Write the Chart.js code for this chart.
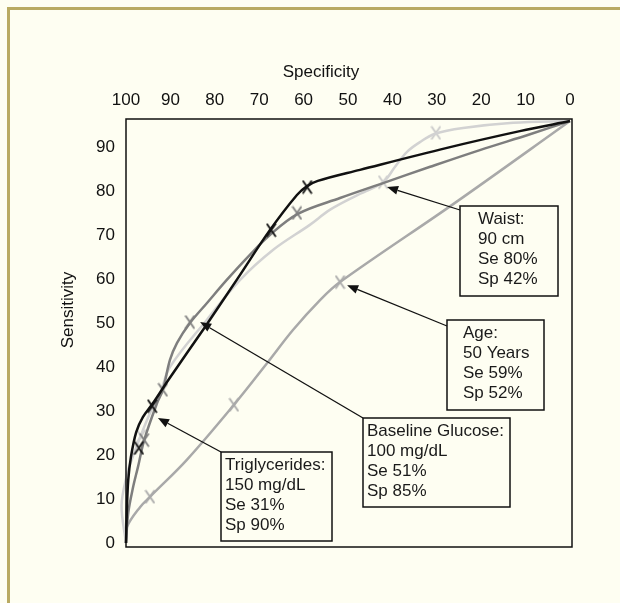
<!DOCTYPE html>
<html>
<head>
<meta charset="utf-8">
<script src="https://cdn.jsdelivr.net/npm/chart.js@4.4.0/dist/chart.umd.min.js"></script>
<style>
    html, body { margin: 0; padding: 0; background: #fefef2; }
    #wrap { width: 620px; height: 603px; }
</style>
</head>
<body>
<div id="wrap"><canvas id="rocChart" width="620" height="603"></canvas></div>
<script>
// ROC curves: specificity (%) along x, sensitivity (%) along y
const trigSpec = [100, 99.8, 99.5, 98.9, 97.7, 96.2, 93.9, 90.5, 82.2, 74.8, 67.6, 61.5, 59.2, 56.8, 47.3, 27.7, 11.3, 0];
const trigSens = [0, 7.5, 14.3, 19.5, 25.2, 28.6, 31.8, 37.0, 49.1, 60.2, 71.1, 79.1, 81.1, 82.3, 84.8, 89.8, 93.6, 95.9];

const glucoseSpec = [100, 99.5, 98.4, 97.3, 95.9, 93.0, 91.7, 90.1, 88.5, 85.6, 81.8, 77.3, 72.1, 67.6, 61.3, 51.8, 42.1, 31.5, 20.3, 9.0, 0];
const glucoseSens = [0, 6.8, 12.7, 17.3, 23.4, 31.8, 34.8, 41.6, 45.5, 50.0, 54.5, 59.8, 65.5, 70.0, 74.8, 78.4, 81.8, 85.5, 89.3, 92.9, 95.9];

const waistSpec = [100, 101.0, 99.8, 98.9, 96.8, 94.6, 92.3, 90.1, 81.8, 74.3, 66.9, 58.6, 54.1, 48.2, 42.1, 39.4, 36.7, 33.8, 30.4, 24.1, 12.8, 0];
const waistSens = [0, 8.5, 15.5, 18.4, 24.1, 29.5, 34.1, 40.0, 50.7, 59.8, 66.6, 72.3, 75.7, 78.9, 82.0, 85.5, 88.9, 91.1, 93.0, 94.3, 95.5, 95.9];

const ageSpec = [100, 99.8, 96.8, 94.6, 86.3, 75.7, 68.2, 62.4, 56.3, 51.8, 25.9, 0];
const ageSens = [0, 3.6, 8.2, 10.5, 18.9, 31.4, 40.9, 48.4, 55.2, 59.3, 77.3, 95.9];

// X marks on the curves
const trigMarkSpec = [97.1, 94.1, 67.3, 59.2];
const trigMarkSens = [21.6, 31.1, 71.1, 80.9];
const glucoseMarkSpec = [95.9, 91.7, 85.6, 61.5];
const glucoseMarkSens = [23.4, 34.8, 50.2, 75.0];
const waistMarkSpec = [96.6, 42.1, 30.2];
const waistMarkSens = [24.3, 82.0, 93.2];
const ageMarkSpec = [94.6, 75.7, 51.8];
const ageMarkSens = [10.5, 31.4, 59.3];

const specTicks = [100, 90, 80, 70, 60, 50, 40, 30, 20, 10, 0];
const sensTicks = [0, 10, 20, 30, 40, 50, 60, 70, 80, 90];

// callouts: text, box (px) and where the arrow points (spec, sens)
const callouts = [
    { lines: ['Waist:', '90 cm', 'Se 80%', 'Sp 42%'], box: [460, 206, 98, 90], textX: 478, from: [460, 210], tip: [41.2, 80.9] },
    { lines: ['Age:', '50 Years', 'Se 59%', 'Sp 52%'], box: [447, 320, 97, 90], textX: 463, from: [447, 326], tip: [50.2, 58.6] },
    { lines: ['Baseline Glucose:', '100 mg/dL', 'Se 51%', 'Sp 85%'], box: [363, 418, 147, 89], textX: 367, from: [363, 418], tip: [83.3, 50.2] },
    { lines: ['Triglycerides:', '150 mg/dL', 'Se 31%', 'Sp 90%'], box: [221, 452, 111, 89], textX: 225, from: [221, 452], tip: [92.8, 28.4] }
];

const CREAM = '#fefef2';
const FONT = '"Liberation Sans", Arial, sans-serif';

function toPoints(xs, ys) {
    return xs.map((x, i) => ({ x: x, y: ys[i] }));
}

// tall "X" glyph used as point marker
function xMark(color) {
    const c = document.createElement('canvas');
    c.width = 11; c.height = 15;
    const g = c.getContext('2d');
    g.strokeStyle = color;
    g.lineWidth = 1.8;
    g.beginPath();
    g.moveTo(1, 1); g.lineTo(10, 14);
    g.moveTo(10, 1); g.lineTo(1, 14);
    g.stroke();
    return c;
}

function curve(label, xs, ys, color) {
    return {
        label: label,
        data: toPoints(xs, ys),
        showLine: true,
        borderColor: color,
        borderWidth: 2.5,
        tension: 0.35,
        pointRadius: 0,
        clip: false
    };
}

function marks(label, xs, ys, color) {
    return {
        label: label,
        data: toPoints(xs, ys),
        showLine: false,
        pointStyle: xMark(color),
        pointRadius: 6,
        clip: false
    };
}

function drawArrow(ctx, x0, y0, x1, y1) {
    const ang = Math.atan2(y1 - y0, x1 - x0);
    const len = 11, half = 4.5;
    const bx = x1 - len * Math.cos(ang), by = y1 - len * Math.sin(ang);
    ctx.beginPath();
    ctx.moveTo(x0, y0);
    ctx.lineTo(bx, by);
    ctx.stroke();
    ctx.beginPath();
    ctx.moveTo(x1, y1);
    ctx.lineTo(bx + half * Math.sin(ang), by - half * Math.cos(ang));
    ctx.lineTo(bx - half * Math.sin(ang), by + half * Math.cos(ang));
    ctx.closePath();
    ctx.fill();
}

const backdrop = {
    id: 'backdrop',
    beforeDraw(chart) {
        const ctx = chart.ctx;
        ctx.save();
        ctx.fillStyle = CREAM;
        ctx.fillRect(0, 0, chart.width, chart.height);
        ctx.fillStyle = '#b9aa62';
        ctx.fillRect(7, 7, chart.width - 7, 3);
        ctx.fillRect(7, 7, 3, chart.height - 7);
        ctx.restore();
    }
};

const decorations = {
    id: 'decorations',
    afterDraw(chart) {
        const ctx = chart.ctx;
        const area = chart.chartArea;
        const xs = chart.scales.x, ys = chart.scales.y;
        ctx.save();

        // plot frame
        ctx.strokeStyle = '#111';
        ctx.lineWidth = 1.5;
        ctx.strokeRect(area.left, area.top, area.right - area.left, area.bottom - area.top);

        // axis titles
        ctx.fillStyle = '#111';
        ctx.font = '17px ' + FONT;
        ctx.textAlign = 'center';
        ctx.textBaseline = 'middle';
        ctx.fillText('Specificity', 321, 72);
        ctx.save();
        ctx.translate(68, 310);
        ctx.rotate(-Math.PI / 2);
        ctx.fillText('Sensitivity', 0, 0);
        ctx.restore();

        // callouts
        callouts.forEach(c => {
            const [bx, by, bw, bh] = c.box;
            ctx.strokeStyle = '#111';
            ctx.fillStyle = '#111';
            ctx.lineWidth = 1.3;
            drawArrow(ctx, c.from[0], c.from[1], xs.getPixelForValue(c.tip[0]), ys.getPixelForValue(c.tip[1]));
            ctx.fillStyle = CREAM;
            ctx.fillRect(bx, by, bw, bh);
            ctx.lineWidth = 1.5;
            ctx.strokeRect(bx, by, bw, bh);
            ctx.fillStyle = '#1a1a1a';
            ctx.font = '17px ' + FONT;
            ctx.textAlign = 'left';
            ctx.textBaseline = 'middle';
            c.lines.forEach((t, i) => ctx.fillText(t, c.textX, by + 13 + i * 20.2));
        });
        ctx.restore();
    }
};

const ctx = document.getElementById('rocChart').getContext('2d');
new Chart(ctx, {
    type: 'scatter',
    data: {
        datasets: [
            curve('Triglycerides', trigSpec, trigSens, '#111111'),
            marks('Triglycerides marks', trigMarkSpec, trigMarkSens, '#111111'),
            curve('Baseline Glucose', glucoseSpec, glucoseSens, '#7e7e7e'),
            marks('Baseline Glucose marks', glucoseMarkSpec, glucoseMarkSens, '#7e7e7e'),
            curve('Waist', waistSpec, waistSens, '#d2d2d2'),
            marks('Waist marks', waistMarkSpec, waistMarkSens, '#c8c8c8'),
            curve('Age', ageSpec, ageSens, '#a9a9a9'),
            marks('Age marks', ageMarkSpec, ageMarkSens, '#a9a9a9')
        ]
    },
    options: {
        responsive: false,
        animation: false,
        layout: { padding: { left: 0, top: 0, right: 48, bottom: 56 } },
        plugins: {
            legend: { display: false },
            tooltip: { enabled: false }
        },
        scales: {
            x: {
                type: 'linear',
                position: 'top',
                reverse: true,
                min: -0.45,
                max: 100,
                grid: { display: false, drawTicks: false },
                border: { display: false },
                ticks: { color: '#111', padding: 8, maxRotation: 0, font: { family: FONT, size: 17 } },
                afterBuildTicks: s => { s.ticks = specTicks.map(v => ({ value: v })); },
                afterFit: s => { s.height = 119; }
            },
            y: {
                type: 'linear',
                min: -0.91,
                max: 96.36,
                grid: { display: false, drawTicks: false },
                border: { display: false },
                ticks: { color: '#111', padding: 11, font: { family: FONT, size: 17 } },
                afterBuildTicks: s => { s.ticks = sensTicks.map(v => ({ value: v })); },
                afterFit: s => { s.width = 126; }
            }
        }
    },
    plugins: [backdrop, decorations]
});
</script>
</body>
</html>
